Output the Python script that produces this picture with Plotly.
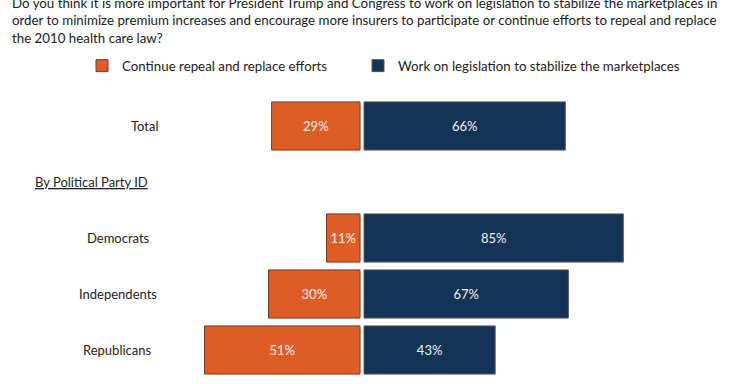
import plotly.graph_objects as go

categories = ["Total", "Democrats", "Independents", "Republicans"]
row_pos = [0, 2, 3, 4]
repeal = [29, 11, 30, 51]
stabilize = [66, 85, 67, 43]
series_names = ["Continue repeal and replace efforts", "Work on legislation to stabilize the marketplaces"]
section_label = "By Political Party ID"
question = ("Do you think it is more important for President Trump and Congress to work on legislation to stabilize the marketplaces in<br>"
            "order to minimize premium increases and encourage more insurers to participate or continue efforts to repeal and replace<br>"
            "the 2010 health care law?")

ORANGE = "#E05C26"
NAVY = "#143457"
FONT = "Lato"
gap = 0.65

fig = go.Figure()
fig.add_trace(go.Bar(
    y=row_pos, x=[-v for v in repeal], base=[-gap] * len(repeal), orientation="h",
    name=series_names[0], marker=dict(color=ORANGE, line=dict(color="#7a3a1e", width=1)),
    text=[f"{v}%" for v in repeal], textposition="inside", insidetextanchor="middle",
    textfont=dict(color="#F2F2F2", size=13, family=FONT), width=0.86, legend="legend",
))
fig.add_trace(go.Bar(
    y=row_pos, x=stabilize, base=[gap] * len(stabilize), orientation="h",
    name=series_names[1], marker=dict(color=NAVY, line=dict(color="#555555", width=1)),
    text=[f"{v}%" for v in stabilize], textposition="inside", insidetextanchor="middle",
    textfont=dict(color="#F2F2F2", size=13, family=FONT), width=0.86, legend="legend2",
))

W = 732
label_x = [145, 118, 118, 117]
annotations = []
for c, yv, lx in zip(categories, row_pos, label_x):
    annotations.append(dict(x=lx / W, xref="paper", y=yv, yref="y", text=c, showarrow=False,
                            xanchor="center", yanchor="middle", font=dict(size=13, color="#222", family=FONT)))
annotations.append(dict(x=33 / W, xref="paper", y=1, yref="y", text=f"<u>{section_label}</u>", showarrow=False,
                        xanchor="left", yanchor="middle", font=dict(size=13, color="#222", family=FONT)))
annotations.append(dict(x=10 / W, xref="paper", y=(304 + 87) / 304, yref="paper", text=question, showarrow=False,
                        xanchor="left", yanchor="top", align="left",
                        font=dict(size=13.3, color="#1a1a1a", family=FONT)))

leg_common = dict(orientation="h", xanchor="left", yanchor="middle", bgcolor="rgba(0,0,0,0)",
                  font=dict(size=13.3, color="#222", family=FONT), itemwidth=30)
fig.update_layout(
    width=732, height=384, margin=dict(l=0, r=0, t=80, b=0, autoexpand=False),
    paper_bgcolor="white", plot_bgcolor="white",
    barmode="overlay", showlegend=True,
    legend=dict(x=82 / W, y=(304 + 14) / 304, **leg_common),
    legend2=dict(x=358 / W, y=(304 + 14) / 304, **leg_common),
    xaxis=dict(range=[-118.7, 121.3], visible=False, fixedrange=True),
    yaxis=dict(range=[4.607, -0.821], visible=False, fixedrange=True),
    annotations=annotations,
)
fig.write_html("out.html", config={"displayModeBar": False},
               post_script="document.body.style.margin='0';document.body.style.overflow='hidden';")
